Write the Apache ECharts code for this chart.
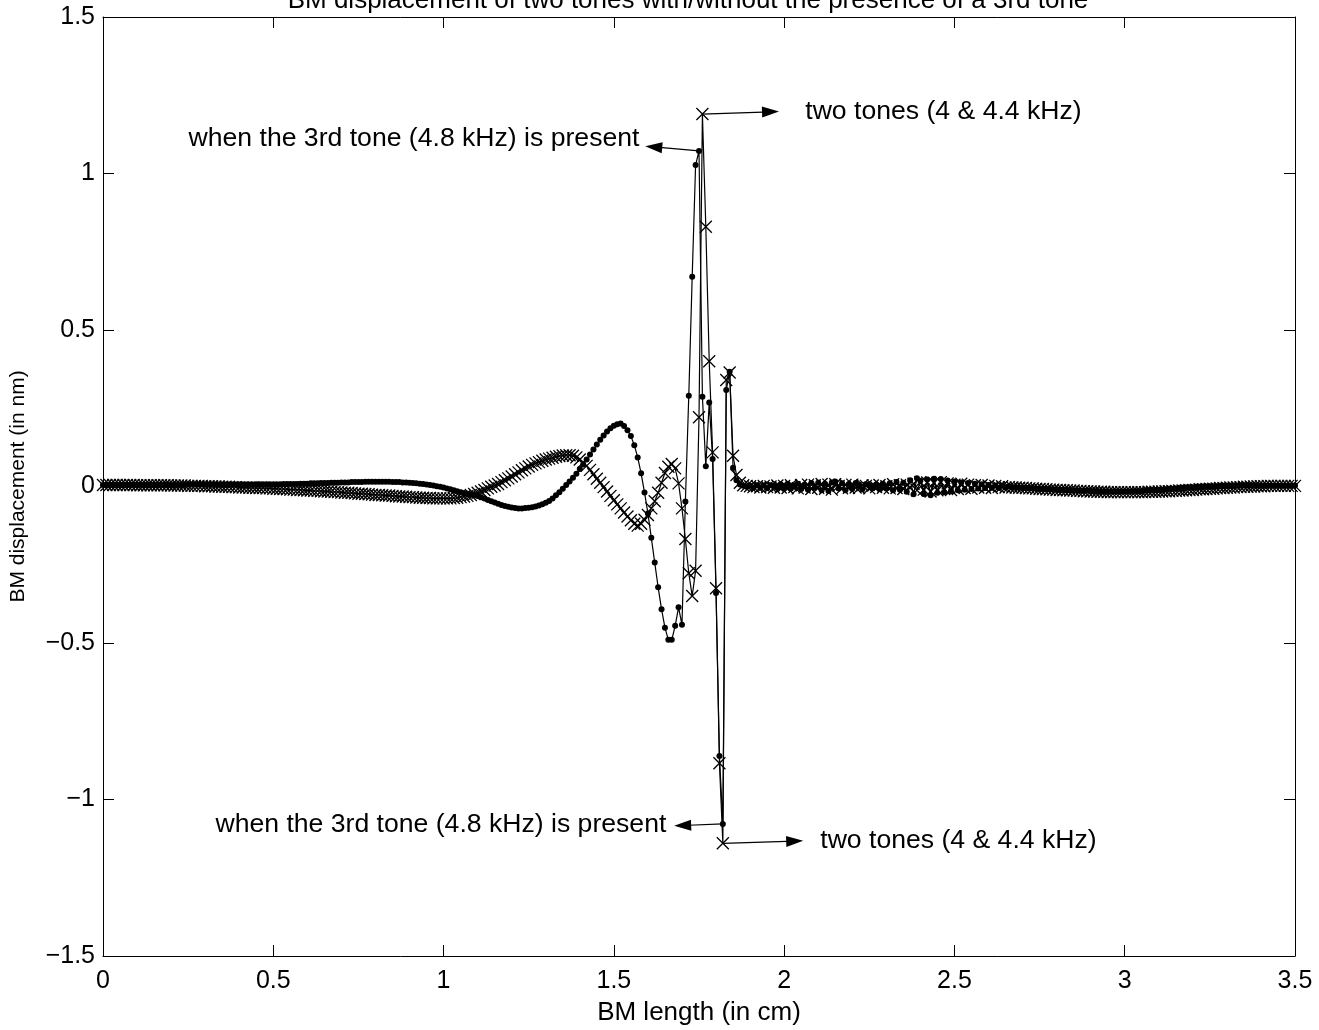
<!DOCTYPE html>
<html><head><meta charset="utf-8">
<script src="https://cdn.jsdelivr.net/npm/echarts@6/dist/echarts.min.js"></script>
<style>html,body{margin:0;padding:0;background:#fff}#c{width:1319px;height:1030px}</style>
</head><body><div id="c"></div>
<script>
const titleText = 'BM displacement of two tones with/without the presence of a 3rd tone';
const xName = 'BM length (in cm)';
const yName = 'BM displacement (in nm)';
const xStep = 0.01; // spacing of BM sample points (cm)

// two tones (4 & 4.4 kHz) -- 'x' markers
const twoTones = [
0.005,0.005,0.005,0.005,0.005,0.005,0.005,0.005,0.005,0.005,
0.004,0.004,0.004,0.004,0.004,0.004,0.004,0.004,0.004,0.004,
0.003,0.003,0.003,0.003,0.003,0.002,0.002,0.002,0.002,0.002,
0.001,0.001,0.001,0.000,0.000,-0.001,-0.001,-0.001,-0.002,-0.002,
-0.003,-0.003,-0.003,-0.004,-0.004,-0.005,-0.005,-0.005,-0.006,-0.006,
-0.007,-0.007,-0.008,-0.008,-0.009,-0.010,-0.010,-0.011,-0.011,-0.012,
-0.013,-0.013,-0.014,-0.014,-0.015,-0.016,-0.016,-0.017,-0.018,-0.018,
-0.019,-0.020,-0.020,-0.021,-0.022,-0.023,-0.023,-0.024,-0.025,-0.026,
-0.027,-0.027,-0.028,-0.029,-0.029,-0.030,-0.031,-0.032,-0.032,-0.033,
-0.034,-0.034,-0.035,-0.036,-0.036,-0.037,-0.037,-0.038,-0.038,-0.038,
-0.038,-0.038,-0.038,-0.037,-0.036,-0.034,-0.032,-0.030,-0.027,-0.024,
-0.020,-0.016,-0.011,-0.006,-0.001,0.003,0.008,0.014,0.020,0.026,
0.032,0.039,0.045,0.052,0.058,0.064,0.069,0.074,0.078,0.082,
0.086,0.089,0.092,0.095,0.097,0.099,0.100,0.100,0.098,0.093,
0.086,0.077,0.066,0.053,0.039,0.025,0.012,-0.002,-0.016,-0.030,
-0.044,-0.057,-0.070,-0.083,-0.096,-0.108,-0.119,-0.125,-0.119,-0.106,
-0.091,-0.070,-0.047,-0.020,0.012,0.043,0.063,0.072,0.058,0.010,
-0.070,-0.168,-0.277,-0.350,-0.269,0.221,1.190,0.830,0.400,0.109,
-0.325,-0.884,-1.140,0.340,0.364,0.098,0.037,0.012,0.004,0.002,
0.001,-0.002,0.001,-0.003,0.002,-0.002,0.000,-0.004,0.003,-0.003,
0.002,-0.005,0.004,-0.002,-0.006,0.005,-0.003,0.006,-0.008,0.004,
-0.004,0.008,-0.007,0.006,-0.010,0.007,0.002,-0.006,0.005,-0.004,
0.006,-0.003,-0.005,0.004,0.002,-0.006,0.003,-0.002,0.005,-0.004,
0.001,-0.006,0.007,-0.005,0.004,-0.008,0.006,-0.004,0.009,-0.012,
0.014,-0.010,0.013,-0.016,0.011,-0.012,0.014,-0.008,0.010,-0.011,
0.006,-0.008,0.009,-0.005,0.006,-0.007,0.004,-0.003,0.005,-0.004,
0.003,-0.005,0.002,-0.002,0.001,-0.003,-0.002,-0.003,-0.003,-0.004,
-0.004,-0.005,-0.006,-0.006,-0.007,-0.008,-0.008,-0.009,-0.010,-0.010,
-0.011,-0.011,-0.012,-0.012,-0.013,-0.013,-0.014,-0.014,-0.015,-0.015,
-0.016,-0.016,-0.017,-0.017,-0.017,-0.018,-0.018,-0.018,-0.018,-0.018,
-0.018,-0.018,-0.018,-0.018,-0.018,-0.018,-0.018,-0.017,-0.017,-0.017,
-0.016,-0.016,-0.015,-0.015,-0.014,-0.014,-0.013,-0.013,-0.012,-0.011,
-0.011,-0.010,-0.009,-0.009,-0.008,-0.007,-0.007,-0.006,-0.005,-0.005,
-0.004,-0.003,-0.003,-0.002,-0.002,-0.001,-0.001,0.000,0.000,0.001,
0.001,0.001,0.002,0.002,0.002,0.002,0.002,0.002,0.002,0.002,0.002
];

// with the 3rd tone (4.8 kHz) present -- '.' markers
const threeTones = [
0.005,0.005,0.005,0.005,0.005,0.005,0.005,0.005,0.005,0.005,
0.005,0.005,0.005,0.005,0.005,0.005,0.005,0.005,0.005,0.005,
0.005,0.005,0.005,0.005,0.005,0.006,0.006,0.006,0.006,0.006,
0.006,0.006,0.006,0.006,0.006,0.006,0.006,0.006,0.006,0.006,
0.006,0.006,0.006,0.006,0.006,0.007,0.007,0.007,0.007,0.007,
0.007,0.007,0.007,0.008,0.008,0.008,0.008,0.008,0.009,0.009,
0.009,0.010,0.010,0.010,0.011,0.011,0.011,0.012,0.012,0.012,
0.013,0.013,0.013,0.014,0.014,0.014,0.014,0.015,0.015,0.015,
0.015,0.015,0.015,0.015,0.015,0.014,0.014,0.014,0.013,0.013,
0.012,0.011,0.010,0.009,0.008,0.006,0.005,0.003,0.001,-0.001,
-0.003,-0.006,-0.009,-0.012,-0.015,-0.018,-0.021,-0.023,-0.025,-0.027,
-0.030,-0.034,-0.038,-0.043,-0.047,-0.051,-0.055,-0.059,-0.062,-0.065,
-0.067,-0.069,-0.070,-0.070,-0.069,-0.068,-0.066,-0.064,-0.061,-0.057,
-0.052,-0.046,-0.038,-0.028,-0.018,-0.007,0.005,0.016,0.028,0.041,
0.056,0.070,0.086,0.102,0.118,0.134,0.149,0.163,0.176,0.186,
0.194,0.199,0.201,0.193,0.180,0.161,0.132,0.093,0.042,-0.019,
-0.086,-0.164,-0.243,-0.322,-0.392,-0.451,-0.490,-0.490,-0.445,-0.386,
-0.442,-0.048,0.290,0.670,1.027,1.072,0.287,0.065,0.268,0.088,
-0.340,-0.861,-1.078,0.308,0.367,0.060,0.020,0.006,0.002,-0.001,
0.002,-0.003,0.004,-0.002,0.003,-0.005,0.004,0.001,-0.004,0.006,
-0.003,0.008,-0.006,0.002,0.009,-0.008,0.005,-0.010,0.011,-0.004,
0.012,-0.012,0.009,-0.014,0.013,0.016,-0.006,0.010,-0.012,0.008,
-0.007,0.011,0.004,-0.009,0.007,0.003,-0.005,0.006,-0.008,0.009,
-0.006,0.010,-0.012,0.014,-0.010,0.012,-0.017,0.020,-0.025,0.026,
0.018,-0.024,0.022,-0.028,0.025,-0.020,0.024,-0.018,0.019,-0.015,
0.016,-0.012,0.013,-0.010,0.011,-0.008,0.009,-0.006,0.007,-0.005,
0.005,-0.004,0.003,-0.004,0.002,-0.003,0.001,-0.003,-0.002,-0.003,
-0.004,-0.004,-0.005,-0.005,-0.006,-0.006,-0.007,-0.008,-0.008,-0.009,
-0.009,-0.010,-0.010,-0.011,-0.011,-0.012,-0.012,-0.013,-0.013,-0.013,
-0.014,-0.014,-0.014,-0.015,-0.015,-0.015,-0.015,-0.015,-0.015,-0.015,
-0.015,-0.015,-0.015,-0.014,-0.014,-0.014,-0.013,-0.013,-0.012,-0.011,
-0.011,-0.010,-0.009,-0.008,-0.007,-0.006,-0.005,-0.004,-0.003,-0.002,
-0.002,-0.001,-0.001,0.000,0.000,0.001,0.001,0.001,0.002,0.002,
0.002,0.002,0.002,0.002,0.003,0.003,0.003,0.003,0.003,0.003,
0.003,0.003,0.003,0.003,0.003,0.003,0.003,0.003,0.003,0.003,0.003
];

// annotation arrows (data coords): from marker to arrow head centre
const arrows = [
  {from: [1.76, 1.190], to: [1.960, 1.197]},
  {from: [1.75, 1.072], to: [1.617, 1.085]},
  {from: [1.82, -1.078], to: [1.702, -1.083]},
  {from: [1.82, -1.140], to: [2.031, -1.133]}
];
// annotation texts (data coords of the anchor)
const notes = [
  {at: [2.062, 1.196], text: 'two tones (4 & 4.4 kHz)', side: 'right'},
  {at: [1.575, 1.110], text: 'when the 3rd tone (4.8 kHz) is present', side: 'left'},
  {at: [1.654, -1.080], text: 'when the 3rd tone (4.8 kHz) is present', side: 'left'},
  {at: [2.106, -1.132], text: 'two tones (4 & 4.4 kHz)', side: 'right'}
];

const FONT = "'Liberation Sans', Arial, Helvetica, sans-serif";
const FS_TICK = 25;
const FS_NAME = 26;
const FS_YNAME = 21;
const FS_NOTE = 26.6;
const fmt = v => (v < 0 ? '\u2212' + String(Math.abs(v)) : String(v));
const toPairs = arr => arr.map((v, i) => [Math.round(i * xStep * 100) / 100, v]);

const chart = echarts.init(document.getElementById('c'), null, {renderer: 'canvas'});

const axisCommon = {
  type: 'value',
  axisLine: {show: true, onZero: false, lineStyle: {color: '#000', width: 1}},
  axisTick: {show: true, inside: true, length: 11, lineStyle: {color: '#000', width: 1}},
  splitLine: {show: false}
};

chart.setOption({
  animation: false,
  backgroundColor: '#fff',
  title: {
    text: titleText, left: 688, top: -12, textAlign: 'center', padding: 0,
    textStyle: {fontFamily: FONT, fontSize: FS_NAME, fontWeight: 'normal', color: '#000'}
  },
  grid: {left: 103, right: 24, top: 17, bottom: 74, containLabel: false, outerBoundsMode: 'none'},
  xAxis: [
    Object.assign({}, axisCommon, {
      position: 'bottom', min: 0, max: 3.5, interval: 0.5,
      axisLabel: {color: '#000', fontSize: FS_TICK, fontFamily: FONT, margin: 13, formatter: fmt},
      name: xName, nameLocation: 'middle', nameGap: 44,
      nameTextStyle: {color: '#000', fontSize: FS_NAME, fontFamily: FONT}
    }),
    Object.assign({}, axisCommon, {
      position: 'top', min: 0, max: 3.5, interval: 0.5, axisLabel: {show: false}
    })
  ],
  yAxis: [
    Object.assign({}, axisCommon, {
      position: 'left', min: -1.5, max: 1.5, interval: 0.5,
      axisLabel: {color: '#000', fontSize: FS_TICK, fontFamily: FONT, margin: 8, formatter: fmt},
      name: yName, nameLocation: 'middle', nameGap: 74,
      nameTextStyle: {color: '#000', fontSize: FS_YNAME, fontFamily: FONT}
    }),
    Object.assign({}, axisCommon, {
      position: 'right', min: -1.5, max: 1.5, interval: 0.5, axisLabel: {show: false}
    })
  ],
  series: [
    {
      name: 'two tones', type: 'line', xAxisIndex: 0, yAxisIndex: 0,
      data: toPairs(twoTones),
      symbol: 'path://M0,0L10,10M10,0L0,10', symbolSize: 12,
      showSymbol: true, showAllSymbol: true, silent: true,
      lineStyle: {color: '#000', width: 1.2},
      itemStyle: {color: '#000', borderColor: '#000', borderWidth: 1.3},
      emphasis: {disabled: true}, z: 2
    },
    {
      name: '3rd tone present', type: 'line', xAxisIndex: 0, yAxisIndex: 0,
      data: toPairs(threeTones),
      symbol: 'circle', symbolSize: 6,
      showSymbol: true, showAllSymbol: true, silent: true,
      lineStyle: {color: '#000', width: 1.2},
      itemStyle: {color: '#000', borderWidth: 0},
      emphasis: {disabled: true}, z: 3
    },
    {
      name: 'annotations', type: 'line', xAxisIndex: 0, yAxisIndex: 0,
      data: [], silent: true, z: 4,
      markLine: {
        silent: true, animation: false,
        symbol: ['none', 'triangle'],
        lineStyle: {color: '#000', width: 1.2, type: 'solid'},
        itemStyle: {color: '#000'},
        label: {show: false},
        emphasis: {disabled: true},
        data: arrows.map(a => [
          {coord: a.from, symbol: 'none'},
          {coord: a.to, symbol: 'triangle', symbolSize: [11, 17], itemStyle: {color: '#000'}}
        ])
      },
      markPoint: {
        silent: true, animation: false,
        symbol: 'circle', symbolSize: 0,
        itemStyle: {color: 'rgba(0,0,0,0)'},
        emphasis: {disabled: true},
        data: notes.map(n => ({
          coord: n.at,
          label: {
            show: true, position: n.side, distance: 0,
            formatter: n.text, color: '#000', fontSize: FS_NOTE, fontFamily: FONT
          }
        }))
      }
    }
  ]
});
</script>
</body></html>
